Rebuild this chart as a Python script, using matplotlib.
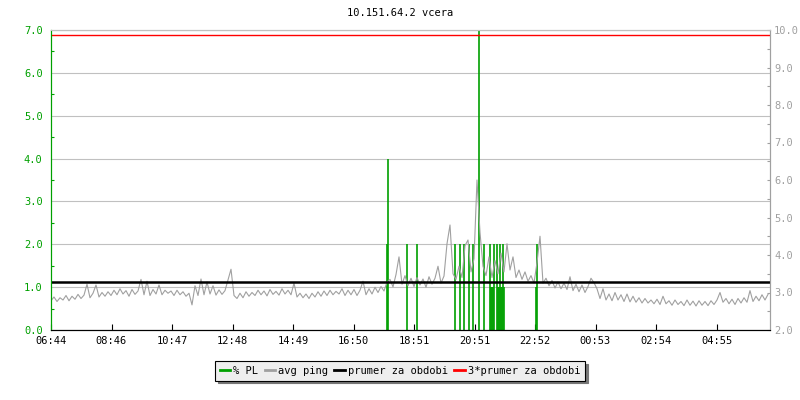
import matplotlib
matplotlib.use("Agg")
import matplotlib.pyplot as plt
from matplotlib.lines import Line2D
from matplotlib.ticker import MultipleLocator, FixedLocator

# time axis in minutes from 06:44
tick_pos = [0, 121, 242, 363, 484, 605, 726, 847, 968, 1089, 1210, 1331]
tick_labels = ["06:44", "08:46", "10:47", "12:48", "14:49", "16:50",
               "18:51", "20:51", "22:52", "00:53", "02:54", "04:55"]

left_ticks = [0, 1, 2, 3, 4, 5, 6, 7]
right_ticks = [2, 3, 4, 5, 6, 7, 8, 9, 10]

# avg ping (right axis), one sample every 6 minutes
ping = [
    2.78, 2.88, 2.76, 2.86, 2.80, 2.92, 2.78, 2.90, 2.82, 2.95, 2.84, 2.93, 3.22, 2.86, 2.98, 3.20, 2.88, 3.00, 2.90, 3.02,
    2.92, 3.06, 2.94, 3.10, 2.96, 3.05, 2.90, 3.08, 2.95, 3.04, 3.35, 2.94, 3.30, 2.92, 3.08, 2.96, 3.20, 2.94, 3.06, 2.98,
    3.04, 2.92, 3.06, 2.94, 3.02, 2.90, 2.98, 2.67, 3.18, 2.92, 3.36, 2.94, 3.28, 2.96, 3.18, 2.93, 3.07, 2.95, 3.05, 3.34,
    3.62, 2.92, 2.84, 2.98, 2.86, 3.02, 2.90, 3.00, 2.92, 3.06, 2.94, 3.04, 2.91, 3.08, 2.95, 3.03, 2.93, 3.10, 2.96, 3.06,
    2.94, 3.25, 2.88, 2.98, 2.86, 2.96, 2.84, 2.98, 2.88, 3.02, 2.90, 3.04, 2.92, 3.06, 2.94, 3.03, 2.96, 3.10, 2.92, 3.06,
    2.94, 3.08, 2.92, 3.06, 3.30, 2.94, 3.10, 2.96, 3.14, 3.00, 3.16, 3.04, 3.28, 3.35, 3.15, 3.48, 3.95, 3.22, 3.45, 3.18,
    3.38, 3.16, 3.40, 3.20, 3.36, 3.14, 3.42, 3.22, 3.38, 3.70, 3.25, 3.44, 4.30, 4.80, 3.50, 3.35, 3.70, 3.40, 4.25, 4.40,
    3.55, 3.90, 6.00, 4.60, 3.70, 3.45, 3.95, 3.40, 3.85, 3.50, 4.05, 3.55, 4.30, 3.60, 3.95, 3.40, 3.60, 3.35, 3.55, 3.30,
    3.45, 3.25, 3.80, 4.50, 3.25, 3.38, 3.18, 3.32, 3.12, 3.28, 3.10, 3.25, 3.08, 3.42, 3.05, 3.22, 3.02, 3.20, 3.00, 3.16,
    3.38, 3.26, 3.10, 2.84, 3.10, 2.80, 2.96, 2.78, 3.00, 2.80, 2.94, 2.76, 2.96, 2.75, 2.90, 2.74, 2.86, 2.72, 2.84, 2.72,
    2.80, 2.70, 2.82, 2.68, 2.90, 2.70, 2.78, 2.66, 2.80, 2.68, 2.76, 2.65, 2.80, 2.66, 2.77, 2.64, 2.78, 2.66, 2.76, 2.65,
    2.78, 2.68, 2.80, 3.00, 2.74, 2.84, 2.70, 2.82, 2.68, 2.84, 2.72, 2.86, 2.74, 3.05, 2.76, 2.90, 2.78, 2.94, 2.80, 2.95,
]
ping_t = [i * 6 for i in range(len(ping))]

# packet loss % (left axis)
pl_t = [672, 674, 711, 732, 807, 818, 826, 836, 843, 855, 866, 878, 880, 882, 884, 886,
        892, 894, 896, 898, 900, 902, 904, 906, 970, 972]
pl = [2.0, 4.0, 2.0, 2.0, 2.0, 2.0, 2.0, 2.0, 2.0, 7.0, 2.0, 2.0, 1.0, 1.0, 1.0, 2.0,
      2.0, 1.0, 1.0, 2.0, 1.0, 1.0, 2.0, 1.0, 1.0, 2.0]

prumer = 3.29

green = "#00a000"
grey = "#a0a0a0"
mono = "DejaVu Sans Mono"
fs = 7.5

fig = plt.figure(figsize=(8, 4), dpi=100)
ax = fig.add_axes([51 / 800, 70 / 400, 719 / 800, 300 / 400])
ax2 = ax.twinx()

ax.set_axisbelow(True)
ax.grid(axis="y", color="#c0c0c0", linewidth=0.8)
ax.vlines(pl_t, 0, pl, color=green, linewidth=1.2)

ax2.plot(ping_t, ping, color=grey, linewidth=0.8)
ax2.axhline(prumer, color="black", linewidth=1.8)
ax2.axhline(3 * prumer, color="#ff0000", linewidth=1.0)

ax.xaxis.set_major_locator(FixedLocator(tick_pos))
ax.set_xticklabels(tick_labels, fontsize=fs, family=mono)
ax.tick_params(axis="x", direction="in", length=4, width=0.8, pad=4, colors="black")

ax.set_yticks(left_ticks)
ax.set_yticklabels([f"{v:.1f}" for v in left_ticks], fontsize=fs, family=mono)
ax.yaxis.set_minor_locator(MultipleLocator(0.5))
ax.tick_params(axis="y", which="major", length=0, pad=6, labelcolor=green)
ax.tick_params(axis="y", which="minor", direction="in", length=2.5, width=0.8, color=green)

ax2.set_yticks(right_ticks)
ax2.set_yticklabels([f"{v:.1f}" for v in right_ticks], fontsize=fs, family=mono)
ax2.yaxis.set_minor_locator(MultipleLocator(0.5))
ax2.tick_params(axis="y", which="both", direction="in", length=2.5, width=0.8,
                color=grey, labelcolor=grey, pad=3)

ax.set_xlim(0, 1438)
ax.set_ylim(0, 7)
ax2.set_ylim(2, 10)

for a in (ax, ax2):
    a.spines["top"].set_color("#c0c0c0")
    a.spines["left"].set_color(green)
    a.spines["right"].set_color(grey)
    a.spines["bottom"].set_color("black")
    for s in a.spines.values():
        s.set_linewidth(0.8)

fig.text(0.5, 1 - 13 / 400, "10.151.64.2 vcera", ha="center", va="center",
         fontsize=fs, family=mono)

handles = [
    Line2D([], [], color=green, linewidth=2),
    Line2D([], [], color=grey, linewidth=2),
    Line2D([], [], color="black", linewidth=2),
    Line2D([], [], color="red", linewidth=2),
]
labels = ["% PL", "avg ping", "prumer za obdobi", "3*prumer za obdobi"]
leg = fig.legend(handles, labels, loc="center", bbox_to_anchor=(0.5, 1 - 371 / 400),
                 ncol=4, fancybox=False, frameon=True, edgecolor="black",
                 facecolor="#eeeeee", framealpha=1, handlelength=1.0,
                 handletextpad=0.3, columnspacing=0.6, borderpad=0.45,
                 prop={"family": mono, "size": fs},
                 shadow={"color": "#777777", "alpha": 1.0})
leg.get_frame().set_linewidth(0.8)

fig.savefig("out.png", dpi=100, facecolor="white")
